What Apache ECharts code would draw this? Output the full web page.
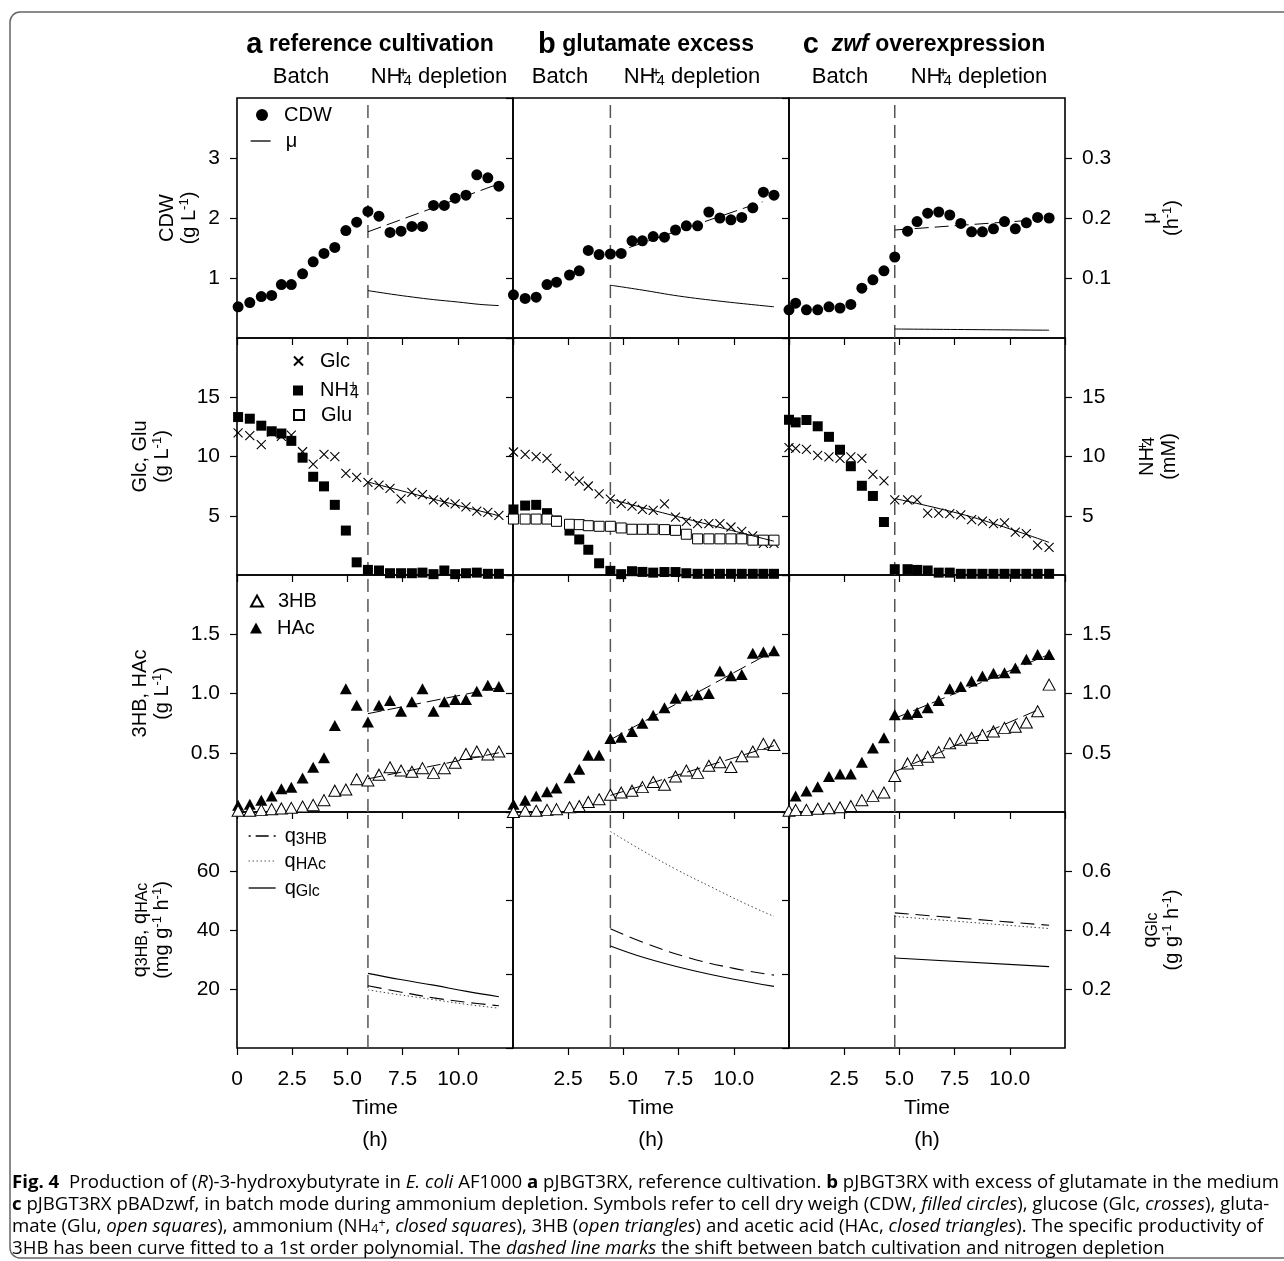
<!DOCTYPE html>
<html><head><meta charset="utf-8">
<script src="https://cdn.jsdelivr.net/npm/echarts@6/dist/echarts.min.js"></script>
<style>html,body{margin:0;padding:0;background:#fff}#c{width:1284px;height:1261px}</style>
</head><body><div id="c"></div>
<script>
// ---------------- data ----------------
const TIME_A = [0.05,0.58,1.1,1.57,2.01,2.46,2.97,3.45,3.94,4.43,4.93,5.42,5.93,6.43,6.93,7.43,7.92,8.4,8.9,9.39,9.88,10.37,10.86,11.36,11.86];
const TIME_B = [0.02,0.55,1.05,1.54,1.97,2.56,3.0,3.41,3.9,4.41,4.9,5.39,5.86,6.35,6.86,7.36,7.85,8.36,8.87,9.37,9.87,10.36,10.86,11.34,11.82];
const TIME_C = [0.0,0.3,0.79,1.3,1.81,2.31,2.8,3.3,3.8,4.3,4.79,5.37,5.8,6.28,6.78,7.28,7.78,8.27,8.76,9.26,9.76,10.25,10.75,11.26,11.78];
const SHIFT = [5.93, 4.41, 4.79];

const CDW_A = [0.52,0.59,0.69,0.71,0.89,0.89,1.07,1.27,1.41,1.51,1.79,1.93,2.11,2.03,1.76,1.78,1.86,1.86,2.21,2.21,2.33,2.38,2.72,2.67,2.53];
const CDW_B = [0.72,0.66,0.68,0.89,0.93,1.05,1.12,1.46,1.39,1.40,1.41,1.62,1.62,1.69,1.68,1.80,1.87,1.87,2.10,2.00,1.97,2.01,2.17,2.43,2.38];
const CDW_C = [0.47,0.58,0.47,0.47,0.52,0.50,0.56,0.83,0.97,1.12,1.35,1.78,1.94,2.08,2.10,2.05,1.91,1.77,1.77,1.82,1.94,1.82,1.92,2.01,2.00];
const FIT_CDW_A = [[5.93,1.77],[11.86,2.57]];
const FIT_CDW_B = [[4.41,1.40],[11.3,2.27]];
const FIT_CDW_C = [[4.79,1.80],[11.26,1.97]];
const MU_A = [[5.93,0.079],[7.0,0.073],[8.0,0.068],[8.9,0.064],[10.0,0.060],[11.0,0.056],[11.86,0.054]];
const MU_B = [[4.41,0.088],[5.84,0.080],[7.5,0.070],[9.47,0.061],[11.82,0.052]];
const MU_C = [[4.79,0.015],[11.78,0.013]];

const GLC_A = [12.0,11.77,11.0,12.05,11.7,11.8,10.4,9.35,10.18,9.99,8.57,8.23,7.81,7.59,7.31,6.42,6.98,6.78,6.34,6.14,6.0,5.75,5.39,5.28,5.03];
const GLC_B = [10.38,10.18,9.99,9.85,9.0,8.34,7.92,7.51,6.84,6.4,6.03,5.81,5.53,5.45,6.0,4.89,4.53,4.33,4.33,4.33,4.05,3.69,3.3,2.66,2.66];
const GLC_C = [10.74,10.68,10.6,10.1,9.96,9.85,9.96,9.85,8.5,7.95,6.34,6.34,6.34,5.22,5.22,5.17,5.08,4.67,4.55,4.33,4.39,3.61,3.5,2.52,2.33];
const NH4_A = [13.33,13.19,12.6,12.13,11.94,11.32,9.9,8.29,7.48,5.92,3.75,1.07,0.43,0.38,0.15,0.15,0.15,0.2,0.07,0.38,0.07,0.15,0.2,0.1,0.1];
const NH4_B = [5.53,5.86,5.92,5.22,4.6,3.75,3.0,2.13,0.99,0.35,0.07,0.32,0.26,0.2,0.25,0.25,0.15,0.1,0.1,0.1,0.1,0.1,0.1,0.1,0.1];
const NH4_C = [13.1,12.88,13.08,12.55,11.66,10.57,9.18,7.53,6.67,4.47,0.49,0.49,0.43,0.38,0.2,0.2,0.1,0.1,0.1,0.1,0.1,0.1,0.1,0.1,0.1];
const GLU_B = [4.72,4.72,4.72,4.72,4.53,4.28,4.25,4.16,4.11,4.11,3.97,3.86,3.86,3.86,3.83,3.77,3.44,3.05,3.05,3.05,3.05,3.05,2.94,2.94,2.94];
const FIT_GLC_A = [[5.93,7.85],[8.9,6.4],[11.86,5.0]];
const FIT_GLC_B = [[4.41,6.4],[6.36,5.45],[11.82,2.85]];
const FIT_GLC_C = [[4.79,6.45],[8.27,4.9],[11.78,2.75]];

const HAC_A = [0.057,0.066,0.10,0.136,0.197,0.209,0.287,0.377,0.458,0.73,1.04,0.90,0.76,0.90,0.94,0.85,0.93,1.04,0.85,0.93,0.95,0.95,1.02,1.07,1.06];
const HAC_B = [0.066,0.10,0.136,0.17,0.203,0.29,0.36,0.478,0.478,0.62,0.63,0.68,0.75,0.816,0.88,0.96,0.98,0.99,1.0,1.19,1.15,1.16,1.34,1.35,1.36];
const HAC_C = [null,0.136,0.178,0.214,0.30,0.32,0.32,0.42,0.54,0.626,0.82,0.825,0.84,0.88,0.94,1.04,1.06,1.105,1.147,1.17,1.175,1.215,1.29,1.33,1.33];
const HB_A = [0.01,0.01,0.018,0.024,0.03,0.035,0.046,0.06,0.10,0.18,0.19,0.276,0.265,0.315,0.377,0.35,0.34,0.37,0.33,0.37,0.416,0.49,0.51,0.486,0.51];
const HB_B = [0.0,0.01,0.01,0.018,0.024,0.04,0.05,0.085,0.107,0.146,0.164,0.18,0.21,0.253,0.23,0.30,0.35,0.33,0.39,0.42,0.38,0.47,0.51,0.575,0.565];
const HB_C = [0.01,0.018,0.018,0.027,0.032,0.04,0.05,0.10,0.136,0.164,0.304,0.41,0.44,0.466,0.505,0.58,0.61,0.626,0.65,0.68,0.71,0.72,0.756,0.85,1.075];
const FIT_HAC_A = [[5.93,0.83],[11.86,1.05]];
const FIT_HAC_B = [[4.41,0.61],[11.82,1.36]];
const FIT_HAC_C = [[4.79,0.79],[11.78,1.33]];
const FIT_HB_A = [[5.93,0.28],[11.86,0.50]];
const FIT_HB_B = [[4.41,0.14],[11.82,0.56]];
const FIT_HB_C = [[4.79,0.34],[11.26,0.86]];

const Q3HB_A = [[5.93,21.1],[7.4,19.0],[8.9,17.0],[10.4,15.5],[11.86,14.3]];
const QHAC_A = [[5.93,19.7],[7.4,18.0],[8.9,16.4],[10.4,14.8],[11.86,13.5]];
const QGLC_A = [[5.93,0.253],[7.4,0.232],[8.9,0.213],[10.4,0.192],[11.86,0.174]];
const Q3HB_B = [[4.41,40.4],[6.0,35.5],[8.0,30.5],[10.0,27.0],[11.82,24.7]];
const QHAC_B = [[4.41,73.4],[5.84,67.0],[7.4,60.5],[9.0,54.5],[10.5,49.0],[11.82,44.6]];
const QGLC_B = [[4.41,0.346],[6.0,0.305],[8.0,0.265],[10.0,0.233],[11.82,0.209]];
const Q3HB_C = [[4.79,45.8],[11.78,41.6]];
const QHAC_C = [[4.79,44.6],[11.78,40.5]];
const QGLC_C = [[4.79,0.305],[11.78,0.276]];

const X_RANGE = [0, 12.5, 2.5];
const LEFT_RANGE = [[0,4,1,0],[0,20,5,0],[0,2,0.5,1],[0,80,20,0]];
const LEFT_RANGE_INNER = [[0,4,1],[0,20,5],[0,2,0.5],[0,80,25]];
const RIGHT_RANGE = [[0,0.4,0.1,1],[0,20,5,0],[0,2,0.5,1],[0,0.8,0.2,1]];

// ---------------- layout / style ----------------
const FONT = '"Liberation Sans", Arial, Helvetica, sans-serif';
const CAPFONT = '"Open Sans", "Noto Sans", sans-serif';
const GX = [237, 513, 789], GW = 276;
const GY = [98, 338, 575, 812], GH = [240, 237, 237, 236];
const TIMES = [TIME_A, TIME_B, TIME_C];

const RICH = {
  sp:  {fontSize: 13, fontFamily: FONT, color: '#000', verticalAlign: 'top', padding: [0,0,6,0]},
  sb:  {fontSize: 16, fontFamily: FONT, color: '#000', verticalAlign: 'bottom', padding: [7,0,0,0]},
  spz: {fontSize: 14, fontFamily: FONT, color: '#000', verticalAlign: 'top', width: 1, padding: [0,0,6,0]}
};

const LEFT_NAMES = ['CDW\n(g L{sp|-1})', 'Glc, Glu\n(g L{sp|-1})', '3HB, HAc\n(g L{sp|-1})',
  'q{sb|3HB}, q{sb|HAc}\n(mg g{sp|-1} h{sp|-1})'];
const LEFT_GAP = [37, 64, 64, 64];
const RIGHT_NAMES = ['μ\n(h{sp|-1})', 'NH{spz|+}{sb|4}\n(mM)', '', 'q{sb|Glc}\n(g g{sp|-1} h{sp|-1})'];
const RIGHT_GAP = [74, 71, 0, 74];

const grid = [], xAxis = [], yAxis = [], series = [];
const tickStyle = {show: true, length: 7, lineStyle: {color: '#000', width: 1.2}};
const lblStyle = {color: '#000', fontSize: 21, fontFamily: FONT};

for (let r = 0; r < 4; r++) {
  for (let c = 0; c < 3; c++) {
    const g = r * 3 + c;
    grid.push({left: GX[c], top: GY[r], width: GW, height: GH[r], show: true,
      borderColor: '#000', borderWidth: 1.6, backgroundColor: 'transparent', outerBoundsMode: 'none'});
    xAxis.push({gridIndex: g, type: 'value', min: X_RANGE[0], max: X_RANGE[1], interval: X_RANGE[2],
      axisLine: {show: false}, splitLine: {show: false}, axisTick: tickStyle,
      axisLabel: Object.assign({show: r === 3, margin: 21, showMinLabel: c === 0, showMaxLabel: false,
        formatter: v => v === 0 ? '0' : v.toFixed(1)}, lblStyle),
      name: r === 3 ? 'Time\n(h)' : '', nameLocation: 'middle', nameGap: 44, nameMoveOverlap: false,
      nameTextStyle: {color: '#000', fontSize: 21, fontFamily: FONT, lineHeight: 32}});
    const L = c === 0 ? LEFT_RANGE[r] : LEFT_RANGE_INNER[r];
    yAxis.push({gridIndex: g, type: 'value', position: 'left', min: L[0], max: L[1], interval: L[2],
      axisLine: {show: false}, splitLine: {show: false}, axisTick: tickStyle,
      axisLabel: Object.assign({show: c === 0, margin: 17, showMinLabel: false, showMaxLabel: false,
        formatter: v => v.toFixed(LEFT_RANGE[r][3])}, lblStyle),
      name: c === 0 ? LEFT_NAMES[r] : '', nameLocation: 'middle', nameRotate: 90, nameGap: LEFT_GAP[r],
      nameMoveOverlap: false,
      nameTextStyle: {color: '#000', fontSize: 20, fontFamily: FONT, lineHeight: 22, rich: RICH}});
    const R = RIGHT_RANGE[r];
    yAxis.push({gridIndex: g, type: 'value', position: 'right', min: R[0], max: R[1], interval: R[2],
      show: c === 2, axisLine: {show: false}, splitLine: {show: false}, axisTick: tickStyle,
      axisLabel: Object.assign({show: true, margin: 17, showMinLabel: false, showMaxLabel: false,
        formatter: v => v.toFixed(R[3])}, lblStyle),
      name: c === 2 ? RIGHT_NAMES[r] : '', nameLocation: 'middle', nameRotate: 90, nameGap: RIGHT_GAP[r],
      nameMoveOverlap: false,
      nameTextStyle: {color: '#000', fontSize: 20, fontFamily: FONT, lineHeight: 22, rich: RICH}});
  }
}

const CIRCLE = {symbol: 'circle', symbolSize: 11, itemStyle: {color: '#000', opacity: 1}};
const SQF = {symbol: 'rect', symbolSize: 10, itemStyle: {color: '#000', opacity: 1}};
const SQO = {symbol: 'rect', symbolSize: 10, itemStyle: {color: '#fff', borderColor: '#000', borderWidth: 1, opacity: 1}};
const CROSS = {symbol: 'path://M0,0L10,10M10,0L0,10', symbolSize: 9, itemStyle: {color: '#000', borderColor: '#000', borderWidth: 1.1, opacity: 1}};
const TRF = {symbol: 'triangle', symbolSize: [12, 11], itemStyle: {color: '#000', opacity: 1}};
const TRO = {symbol: 'triangle', symbolSize: [12, 11], itemStyle: {color: '#fff', borderColor: '#000', borderWidth: 1, opacity: 1}};
const SOLID = {color: '#000', width: 1, type: 'solid'};
const FITDASH = {color: '#000', width: 1, type: [14, 6]};
const Q3HB_STYLE = {color: '#000', width: 1.1, type: [14, 7]};
const QHAC_STYLE = {color: '#444', width: 1, type: [1.5, 2.5]};
const QGLC_STYLE = {color: '#000', width: 1.1, type: 'solid'};

function sc(name, g, side, t, v, opt) {
  const data = [];
  t.forEach((x, i) => { if (v[i] != null) data.push([x, v[i]]); });
  series.push(Object.assign({type: 'scatter', name, xAxisIndex: g, yAxisIndex: 2 * g + side, data,
    z: 3, silent: true, emphasis: {disabled: true}}, opt));
}
function ln(name, g, side, pts, style, smooth, z) {
  series.push({type: 'line', name, xAxisIndex: g, yAxisIndex: 2 * g + side, data: pts, symbol: 'none',
    smooth: smooth ? 0.4 : false, lineStyle: style, itemStyle: {color: style.color},
    silent: true, z: z || 2, emphasis: {disabled: true}});
}

const CDW = [CDW_A, CDW_B, CDW_C], FIT_CDW = [FIT_CDW_A, FIT_CDW_B, FIT_CDW_C], MU = [MU_A, MU_B, MU_C];
const GLC = [GLC_A, GLC_B, GLC_C], NH4 = [NH4_A, NH4_B, NH4_C], FIT_GLC = [FIT_GLC_A, FIT_GLC_B, FIT_GLC_C];
const HAC = [HAC_A, HAC_B, HAC_C], HB = [HB_A, HB_B, HB_C];
const FIT_HAC = [FIT_HAC_A, FIT_HAC_B, FIT_HAC_C], FIT_HB = [FIT_HB_A, FIT_HB_B, FIT_HB_C];
const Q3HB = [Q3HB_A, Q3HB_B, Q3HB_C], QHAC = [QHAC_A, QHAC_B, QHAC_C], QGLC = [QGLC_A, QGLC_B, QGLC_C];

for (let c = 0; c < 3; c++) {
  const T = TIMES[c];
  sc('CDW', c, 0, T, CDW[c], CIRCLE);
  ln('CDW fit', c, 0, FIT_CDW[c], FITDASH);
  ln('μ', c, 1, MU[c], SOLID, true);
  const g1 = 3 + c;
  sc('Glc', g1, 0, T, GLC[c], CROSS);
  sc('NH4+', g1, 1, T, NH4[c], SQF);
  if (c === 1) sc('Glu', g1, 0, T, GLU_B, SQO);
  ln('Glc fit', g1, 0, FIT_GLC[c], SOLID, true, 4);
  const g2 = 6 + c;
  sc('HAc', g2, 0, T, HAC[c], TRF);
  sc('3HB', g2, 0, T, HB[c], TRO);
  ln('HAc fit', g2, 0, FIT_HAC[c], FITDASH, false, 4);
  ln('3HB fit', g2, 0, FIT_HB[c], FITDASH, false, 4);
  const g3 = 9 + c;
  ln('q3HB', g3, 0, Q3HB[c], Q3HB_STYLE, true);
  ln('qHAc', g3, 0, QHAC[c], QHAC_STYLE, true);
  ln('qGlc', g3, 1, QGLC[c], QGLC_STYLE, true);
  for (let r = 0; r < 4; r++) {
    const g = r * 3 + c;
    const L = LEFT_RANGE[r];
    ln('shift', g, 0, [[SHIFT[c], L[0]], [SHIFT[c], L[1]]], {color: '#555', width: 1.5, type: [13, 7]}, false, 1);
  }
}

// legends (one component per entry)
const LEG_TEXT = {'CDW': 'CDW', 'μ': 'μ', 'Glc': 'Glc', 'NH4+': 'NH{spz|+}{sb|4}', 'Glu': 'Glu',
  '3HB': '3HB', 'HAc': 'HAc', 'q3HB': 'q{sb|3HB}', 'qHAc': 'q{sb|HAc}', 'qGlc': 'q{sb|Glc}'};
const LEG_LINE = {'μ': {color: '#000', width: 1.3, type: 'solid'},
  'q3HB': {color: '#000', width: 1.3, type: [2, 5, 13, 5]},
  'qHAc': {color: '#555', width: 1.1, type: [1.5, 2.5]},
  'qGlc': {color: '#000', width: 1.3, type: 'solid'}};
const LEG_POS = [
  ['CDW', 256, 117, 12, 12, 11],
  ['μ', 250, 143, 20, 12, 10],
  ['Glc', 293, 363, 9, 9, 12],
  ['NH4+', 293, 391, 10, 10, 12],
  ['Glu', 293, 417, 10, 10, 12],
  ['3HB', 250, 603, 12, 11, 10],
  ['HAc', 250, 630, 12, 11, 10],
  ['q3HB', 248, 838, 27, 12, 4],
  ['qHAc', 248, 863, 27, 12, 4],
  ['qGlc', 248, 890, 27, 12, 4]
];
const legend = LEG_POS.map(p => {
  const isLine = !!LEG_LINE[p[0]];
  const o = {
    data: [p[0]], left: p[1], top: p[2] - 12, orient: 'vertical', itemWidth: p[3], itemHeight: p[4],
    selectedMode: false, padding: 0,
    formatter: n => LEG_TEXT[n],
    itemStyle: isLine ? {opacity: 0, borderWidth: 0} : {opacity: 1},
    textStyle: {color: '#000', fontSize: 20, fontFamily: FONT, padding: [0, 0, 0, p[5]], rich: RICH}
  };
  if (isLine) o.lineStyle = Object.assign({inactiveColor: '#000', opacity: 1}, LEG_LINE[p[0]]);
  return o;
});

// titles and captions
const HR = {
  L: {fontSize: 29, fontWeight: 'bold', fontFamily: FONT, color: '#000'},
  T: {fontSize: 23, fontWeight: 'bold', fontFamily: FONT, color: '#000'},
  I: {fontSize: 23, fontWeight: 'bold', fontStyle: 'italic', fontFamily: FONT, color: '#000'},
  n: {fontSize: 22, fontFamily: FONT, color: '#000'},
  hsb: {fontSize: 15, fontFamily: FONT, color: '#000', verticalAlign: 'bottom', padding: [8,0,0,0]},
  hspz: {fontSize: 15, fontFamily: FONT, color: '#000', verticalAlign: 'top', width: 1, padding: [0,0,7,0]}
};
const TITLES = [
  ['{L|a}{T| reference cultivation}', 370, 45],
  ['{L|b}{T| glutamate excess}', 646, 45],
  ['{L|c}{T|  }{I|zwf}{T| overexpression}', 924, 45],
  ['{n|Batch}', 301, 77], ['{n|NH}{hspz|+}{hsb|4}{n| depletion}', 439, 77],
  ['{n|Batch}', 560, 77], ['{n|NH}{hspz|+}{hsb|4}{n| depletion}', 692, 77],
  ['{n|Batch}', 840, 77], ['{n|NH}{hspz|+}{hsb|4}{n| depletion}', 979, 77]
];
const CAPTION = [
  '{b|Fig. 4}  Production of ({i|R})-3-hydroxybutyrate in {i|E. coli} AF1000 {b|a} pJBGT3RX, reference cultivation. {b|b} pJBGT3RX with excess of glutamate in the medium',
  '{b|c} pJBGT3RX pBADzwf, in batch mode during ammonium depletion. Symbols refer to cell dry weigh (CDW, {i|filled circles}), glucose (Glc, {i|crosses}), gluta-',
  'mate (Glu, {i|open squares}), ammonium (NH{csb|4}{csp|+}, {i|closed squares}), 3HB ({i|open triangles}) and acetic acid (HAc, {i|closed triangles}). The specific productivity of',
  '3HB has been curve fitted to a 1st order polynomial. The {i|dashed line marks} the shift between batch cultivation and nitrogen depletion'
];
const CR = {
  b: {fontSize: 18, fontWeight: 'bold', fontFamily: CAPFONT, color: '#000'},
  i: {fontSize: 18, fontStyle: 'italic', fontFamily: CAPFONT, color: '#000'},
  csb: {fontSize: 12, fontFamily: CAPFONT, color: '#000', verticalAlign: 'bottom', padding: [6,0,0,0]},
  csp: {fontSize: 12, fontFamily: CAPFONT, color: '#000', verticalAlign: 'top', padding: [0,0,6,0]}
};
const CAP_SCALE = 1.035;

const graphic = [
  {type: 'rect', shape: {x: 10, y: 12, width: 1290, height: 1246, r: 10}, silent: true,
    style: {fill: 'none', stroke: '#666', lineWidth: 1.5}}
];
TITLES.forEach(t => graphic.push({type: 'text', x: t[1], y: t[2], silent: true,
  style: {text: t[0], rich: HR, align: 'center', verticalAlign: 'middle', fill: '#000'}}));
CAPTION.forEach((s, i) => graphic.push({type: 'text', x: 12, y: 1183 + i * 22, scaleX: CAP_SCALE, silent: true,
  style: {text: s, rich: CR, align: 'left', verticalAlign: 'middle', fill: '#000', fontSize: 18, fontFamily: CAPFONT}}));

const chart = echarts.init(document.getElementById('c'), null, {renderer: 'canvas', width: 1284, height: 1261});
chart.setOption({
  animation: false, backgroundColor: '#fff',
  grid, xAxis, yAxis, series, legend, graphic
});
</script></body></html>
